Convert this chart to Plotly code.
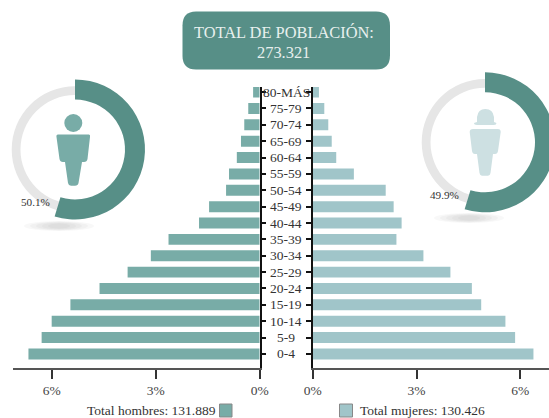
import plotly.graph_objects as go

age_groups = ["0-4", "5-9", "10-14", "15-19", "20-24", "25-29", "30-34", "35-39", "40-44",
              "45-49", "50-54", "55-59", "60-64", "65-69", "70-74", "75-79", "80-MÁS"]
men_pct = [6.67, 6.29, 6.0, 5.46, 4.62, 3.81, 3.14, 2.63, 1.75, 1.46, 0.97, 0.885, 0.66, 0.54, 0.445, 0.33, 0.19]
women_pct = [6.38, 5.85, 5.57, 4.87, 4.6, 3.98, 3.2, 2.42, 2.57, 2.34, 2.11, 1.19, 0.68, 0.55, 0.45, 0.335, 0.18]
x_ticks = [0, 3, 6]
x_tick_labels = ["0%", "3%", "6%"]
men_share_label = "50.1%"
women_share_label = "49.9%"
arc_share = [54.7, 45.3]
title_lines = ["TOTAL DE POBLACIÓN:", "273.321"]
men_total = "Total hombres: 131.889"
women_total = "Total mujeres: 130.426"

W, H = 562, 418
FONT = "Liberation Serif"
DARK, MEN, WOMEN, PALE, RING = "#578f87", "#78aca7", "#a0c5c9", "#cde0e2", "#e6e6e6"


def fx(px):
    return px / W


def fy(px):
    return 1 - px / H


def ring(cx, cy, r, hole, values, colors):
    return go.Pie(values=values, marker=dict(colors=colors, line=dict(width=0)), hole=hole,
                  domain=dict(x=[fx(cx - r), fx(cx + r)], y=[fy(cy + r), fy(cy - r)]),
                  sort=False, direction="clockwise", rotation=0, textinfo="none",
                  hoverinfo="skip", showlegend=False)


fig = go.Figure()
fig.add_trace(go.Bar(y=age_groups, x=men_pct, orientation="h", marker=dict(color=MEN, line=dict(width=0)),
                     xaxis="x", yaxis="y", hoverinfo="skip", showlegend=False))
fig.add_trace(go.Bar(y=age_groups, x=women_pct, orientation="h", marker=dict(color=WOMEN, line=dict(width=0)),
                     xaxis="x2", yaxis="y2", hoverinfo="skip", showlegend=False))

for cx, cy in [(75, 149.5), (485, 142.3)]:
    fig.add_trace(ring(cx, cy, 63.3, 54.5 / 63.3, [1], [RING]))
    fig.add_trace(ring(cx, cy, 70, 50 / 70, arc_share, [DARK, "rgba(0,0,0,0)"]))

y_range = [-0.858, 16.31]
tickfont = dict(family=FONT, size=13.5, color="#444")
x_common = dict(tickmode="array", tickvals=x_ticks, ticktext=x_tick_labels, ticks="outside", ticklen=9,
                tickwidth=1.5, tickcolor="#333", showline=True, linecolor="#555", linewidth=1.5,
                showgrid=False, zeroline=False, tickfont=tickfont)
y_common = dict(type="category", categoryorder="array", categoryarray=age_groups, range=y_range,
                domain=[fy(368), fy(87)], showticklabels=False, ticks="outside", ticklen=5, tickwidth=1.5,
                tickcolor="#111", showline=True, linecolor="#111", linewidth=1.5, showgrid=False, zeroline=False)

shapes = []
for x0, x1, ym in [(24, 94, 226), (434, 504, 218)]:
    for k in range(5):
        inset = k * 6
        shapes.append(dict(type="circle", xref="paper", yref="paper", layer="below",
                           x0=fx(x0 + inset), x1=fx(x1 - inset), y0=fy(ym + 5 - k * 0.6), y1=fy(ym - 5 + k * 0.6),
                           fillcolor="rgba(120,120,120,0.05)", line=dict(width=0)))


def path(points_cmd):
    out, is_x = [], True
    for tok in points_cmd.split():
        try:
            v = float(tok)
        except ValueError:
            out.append(tok)
            continue
        out.append(f"{fx(v):.5f}" if is_x else f"{fy(v):.5f}")
        is_x = not is_x
    return " ".join(out)


shapes.append(dict(type="path", xref="paper", yref="paper",
                   path=path("M 196 11.5 L 376 11.5 Q 390 11.5 390 25.5 L 390 55.5 Q 390 69.5 376 69.5 "
                             "L 196 69.5 Q 182.5 69.5 182.5 55.5 L 182.5 25.5 Q 182.5 11.5 196 11.5 Z"),
                   fillcolor=DARK, line=dict(width=0)))
shapes.append(dict(type="circle", xref="paper", yref="paper", x0=fx(64.3), x1=fx(82.3), y0=fy(132), y1=fy(114),
                   fillcolor=MEN, line=dict(width=0)))
shapes.append(dict(type="path", xref="paper", yref="paper",
                   path=path("M 58 134.5 L 89 134.5 Q 90.5 134.5 90 137 L 87.5 159 Q 87 162 84 162 L 82 162 "
                             "L 78.5 183 Q 78 185.7 75 185.7 L 71 185.7 Q 68.5 185.7 68 183 L 65 162 L 63 162 "
                             "Q 60 162 59.5 159 L 56.5 137 Q 56 134.5 58 134.5 Z"),
                   fillcolor=MEN, line=dict(width=0)))
shapes.append(dict(type="path", xref="paper", yref="paper",
                   path=path("M 477 122 L 477 117 Q 478 109 485.3 109 Q 493 109 494 117 L 494 122 L 496.5 123 "
                             "Q 496.5 125 494 125 L 477 125 Q 474 125 474 123 Z"),
                   fillcolor=PALE, line=dict(width=0)))
shapes.append(dict(type="path", xref="paper", yref="paper",
                   path=path("M 473 129 L 498 129 Q 500.7 129 500.7 132 L 498 151 Q 497.5 154 495 154 L 493 154 "
                             "L 490.5 173 Q 490 175.7 488 175.7 L 482 175.7 Q 480 175.7 479.5 173 L 477 154 L 475 154 "
                             "Q 472.5 154 472 151 L 469.7 132 Q 469.7 129 473 129 Z"),
                   fillcolor=PALE, line=dict(width=0)))
for x0, x1, c in [(219.5, 232, MEN), (339.5, 352.5, WOMEN)]:
    shapes.append(dict(type="rect", xref="paper", yref="paper", x0=fx(x0), x1=fx(x1), y0=fy(417), y1=fy(404),
                       fillcolor=c, line=dict(color="#888", width=1)))


def note(text, x, y, size=13.5, color="#333", anchor="center", yref="paper"):
    return dict(text=text, x=x, y=y, xref="paper", yref=yref, xanchor=anchor, yanchor="middle", showarrow=False,
                font=dict(family=FONT, size=size, color=color), align="center")


annotations = [note(g, fx(286), g, yref="y") for g in age_groups]
annotations += [
    note(title_lines[0], fx(283.5), fy(32.5), 16.4, "#e8f0ee"),
    note(title_lines[1], fx(283.5), fy(52.5), 16.4, "#e8f0ee"),
    note(men_share_label, fx(35.5), fy(202), 11.2),
    note(women_share_label, fx(445), fy(195), 11.2),
    note(men_total, fx(217.5), fy(410), 13.5, "#333", "right"),
    note(women_total, fx(358), fy(410), 13.5, "#333", "left"),
]

fig.update_layout(
    width=W, height=H, autosize=False, margin=dict(l=0, r=0, t=0, b=0, autoexpand=False),
    paper_bgcolor="white", plot_bgcolor="rgba(0,0,0,0)", bargap=0.33,
    font=dict(family=FONT),
    xaxis=dict(domain=[fx(13), fx(259.7)], range=[(259.7 - 13) / 34.67, 0], anchor="y", **x_common),
    xaxis2=dict(domain=[fx(312.7), 1], range=[0, (W - 312.7) / 34.6], anchor="y2", **x_common),
    yaxis=dict(anchor="x", side="right", **y_common),
    yaxis2=dict(anchor="x2", side="left", **y_common),
    shapes=shapes, annotations=annotations,
)

fig.write_html("out.html", config=dict(displayModeBar=False),
               post_script="document.body.style.margin='0';document.documentElement.style.overflow='hidden';document.body.style.overflow='hidden';")
